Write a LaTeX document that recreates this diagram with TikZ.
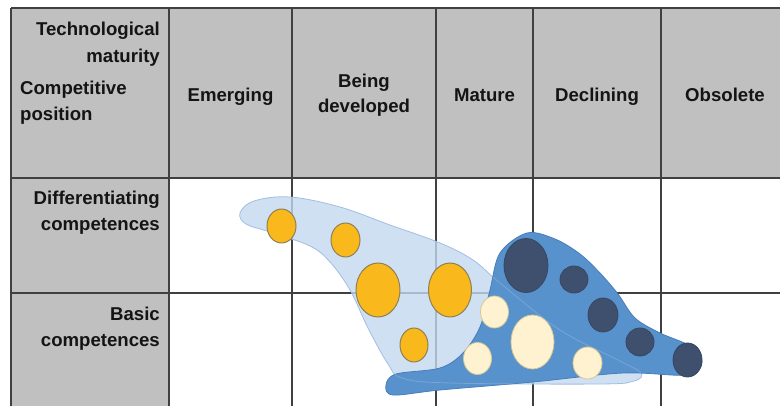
\documentclass[tikz,border=0pt]{standalone}
\usepackage{fontspec}
\setmainfont{Liberation Sans}
\definecolor{headgray}{RGB}{192,192,192}
\definecolor{gridgray}{RGB}{64,64,64}
\definecolor{paleblue}{RGB}{196,216,240}
\definecolor{paleblueline}{RGB}{160,190,226}
\definecolor{midblue}{RGB}{88,146,204}
\definecolor{midblueline}{RGB}{72,126,186}
\definecolor{dotyellow}{RGB}{249,184,28}
\definecolor{dotyellowline}{RGB}{140,128,84}
\definecolor{dotcream}{RGB}{254,242,208}
\definecolor{dotcreamline}{RGB}{214,200,150}
\definecolor{dotnavy}{RGB}{62,80,110}
\definecolor{dotnavyline}{RGB}{56,70,96}

\begin{document}
\begin{tikzpicture}[x=1pt,y=-1pt,line join=round]
 \tikzstyle{gridline} = [draw=gridgray,line width=1.3pt]
 \tikzstyle{heading} = [font=\bfseries\fontsize{18.6}{24}\selectfont,text=black!92,inner sep=0pt]
 \tikzstyle{yellowdot} = [fill=dotyellow,draw=dotyellowline,line width=1pt]
 \tikzstyle{creamdot} = [fill=dotcream,draw=dotcreamline,line width=0.8pt]
 \tikzstyle{navydot} = [fill=dotnavy,draw=dotnavyline,line width=0.8pt]
 \newcommand{\palecloud}{plot[smooth cycle,tension=0.6] coordinates {
      (240,213) (254,201) (290,197) (340,207) (390,225) (440,243) (473,260)
      (500,283) (560,330) (620,361) (641,373) (634,381) (600,384) (450,383)
      (402,378) (388,364) (368,328) (350,290) (330,262) (310,246) (270,232) (246,224)}}
 \newcommand{\bluecloud}{plot[smooth cycle,tension=0.55] coordinates {
      (386,385) (396,374) (440,368) (463,353) (480,327) (490,290) (500,253)
      (527,233) (555,239) (580,254) (600,273) (618,294) (635,318) (660,333)
      (690,346) (702,362) (688,375) (623,373) (533,382) (440,390) (393,395)}}
 \useasboundingbox (0,0) rectangle (780,406);

  % Gray header row and first column
  \fill[headgray] (11,8) rectangle (780,178);
  \fill[headgray] (11,178) rectangle (169,406);

  % Grid
  \draw[gridline] (11,8) -- (780,8);
  \draw[gridline] (11,178) -- (780,178);
  \draw[gridline] (11,293) -- (780,293);
  \draw[gridline] (11,8) -- (11,406);
  \draw[gridline] (169,8) -- (169,406);
  \draw[gridline] (292,8) -- (292,406);
  \draw[gridline] (436,8) -- (436,406);
  \draw[gridline] (533,8) -- (533,406);
  \draw[gridline] (661,8) -- (661,406);

  % Corner cell
  \node[heading,anchor=base east] (tech1) at (160,36) {Technological};
  \node[heading,anchor=base east] (tech2) at (160,63) {maturity};
  \node[heading,anchor=base west] (comp1) at (20,95) {Competitive};
  \node[heading,anchor=base west] (comp2) at (20,121) {position};

  % Maturity stages
  \node[heading,anchor=base] (emerging) at (230.5,102) {Emerging};
  \node[heading,anchor=base] (being1) at (364,88) {Being};
  \node[heading,anchor=base] (being2) at (364,113) {developed};
  \node[heading,anchor=base] (mature) at (484.5,102) {Mature};
  \node[heading,anchor=base] (declining) at (597,102) {Declining};
  \node[heading,anchor=base] (obsolete) at (725,102) {Obsolete};

  % Competitive positions
  \node[heading,anchor=base east] (diff1) at (160,205) {Differentiating};
  \node[heading,anchor=base east] (diff2) at (160,231) {competences};
  \node[heading,anchor=base east] (basic1) at (160,321) {Basic};
  \node[heading,anchor=base east] (basic2) at (160,347) {competences};

  % Pale cloud of new technologies
  \draw[fill=paleblue,draw=paleblueline,fill opacity=0.8,line width=0.8pt] \palecloud;

  % Blue cloud of established technologies
  \draw[fill=midblue,draw=midblueline,line width=0.8pt] \bluecloud;
  % pale outline showing faintly through it
  \begin{scope}
    \clip \bluecloud;
    \draw[paleblueline,draw opacity=0.45,line width=0.8pt] \palecloud;
  \end{scope}

  % Emerging dots
  \draw[yellowdot] (281.5,226) ellipse [x radius=14.5,y radius=17];
  \draw[yellowdot] (345.5,240) ellipse [x radius=14.5,y radius=17];
  \draw[yellowdot] (378,290) ellipse [x radius=22,y radius=27];
  \draw[yellowdot] (450,290) ellipse [x radius=21.5,y radius=27];
  \draw[yellowdot] (414,345) ellipse [x radius=14,y radius=17];

  % Mature dots
  \draw[creamdot] (494.5,312) ellipse [x radius=14,y radius=16];
  \draw[creamdot] (532.5,342) ellipse [x radius=21.5,y radius=27];
  \draw[creamdot] (477.5,358.5) ellipse [x radius=14,y radius=16];
  \draw[creamdot] (587.5,363) ellipse [x radius=14.5,y radius=16];

  % Declining dots
  \draw[navydot] (526,265.5) ellipse [x radius=22,y radius=27];
  \draw[navydot] (574,279.5) ellipse [x radius=14,y radius=13.5];
  \draw[navydot] (603,315) ellipse [x radius=15,y radius=17];
  \draw[navydot] (640,342) ellipse [x radius=14,y radius=14];
  \draw[navydot] (687.5,360) ellipse [x radius=14.5,y radius=17];

\end{tikzpicture}
\end{document}
